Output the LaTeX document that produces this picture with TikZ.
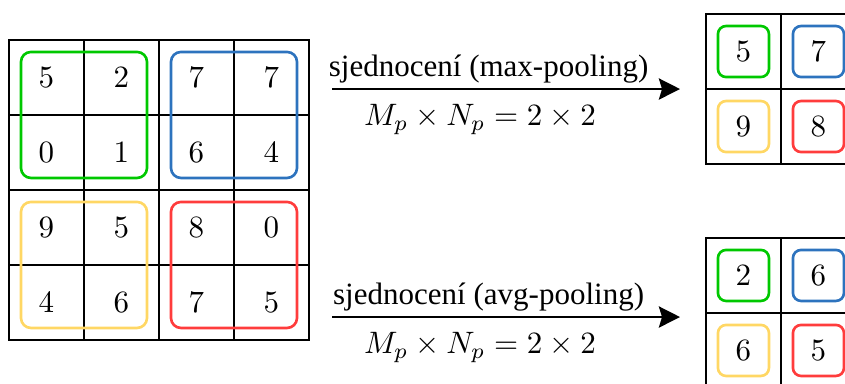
\documentclass[tikz,border=0pt]{standalone}
\usepackage[no-math]{fontspec}
\setmainfont{Liberation Serif}
\usepackage{amsmath}
\usetikzlibrary{positioning, arrows.meta, calc}
\definecolor{grpgreen}{RGB}{0,200,0}
\definecolor{grpblue}{RGB}{45,115,190}
\definecolor{grpyellow}{RGB}{255,215,100}
\definecolor{grpred}{RGB}{255,60,60}

\begin{document}
\begin{tikzpicture}[font=\normalsize,
      cell/.style={draw, line width=0.9pt, minimum size=0.85cm, inner sep=0pt, outer sep=0pt},
      grp/.style={line width=0.85pt, rounded corners=3.2pt},
      pbox/.style={draw, line width=0.85pt, rounded corners=2.6pt, minimum size=0.578cm, inner sep=0pt},
      lbl/.style={inner sep=1.5pt},
      arr/.style={-{Stealth[length=6.8pt, width=6.8pt, inset=1pt]}, line width=0.9pt}]
    \useasboundingbox (0,0) rectangle (9.577,-4.341);
    % vstupni matice 4x4
    \foreach \row [count=\r] in {{5,2,7,7},{0,1,6,4},{9,5,8,0},{4,6,7,5}}
      \foreach \v [count=\c] in \row
        \node[cell] (in-\r-\c) at ({0.102+0.85*\c-0.425},{-0.453-0.85*\r+0.425}) {$\v$};
    \draw[grp, grpgreen]  ($(in-1-1.north west)+(0.136,-0.136)$) rectangle ($(in-2-2.south east)+(-0.136,0.136)$);
    \draw[grp, grpblue]   ($(in-1-3.north west)+(0.136,-0.136)$) rectangle ($(in-2-4.south east)+(-0.136,0.136)$);
    \draw[grp, grpyellow] ($(in-3-1.north west)+(0.136,-0.136)$) rectangle ($(in-4-2.south east)+(-0.136,0.136)$);
    \draw[grp, grpred]    ($(in-3-3.north west)+(0.136,-0.136)$) rectangle ($(in-4-4.south east)+(-0.136,0.136)$);
    % vystupy 2x2
    \foreach \r/\c/\mv/\av/\col in {1/1/5/2/grpgreen, 1/2/7/6/grpblue, 2/1/9/6/grpyellow, 2/2/8/5/grpred} {
      \node[cell] (mx-\r-\c) at ({8.001+0.85*\c-0.425},{-0.159-0.85*\r+0.425}) {};
      \node[pbox, draw=\col] (mxv-\r-\c) at (mx-\r-\c) {$\mv$};
      \node[cell] (av-\r-\c) at ({8.001+0.85*\c-0.425},{-2.697-0.85*\r+0.425}) {};
      \node[pbox, draw=\col] (avv-\r-\c) at (av-\r-\c) {$\av$};
    }
    \coordinate (maxa) at (3.763,-1.009);
    \coordinate (maxb) at (7.707,-1.009);
    \coordinate (avga) at (3.763,-3.593);
    \coordinate (avgb) at (7.707,-3.593);
    \draw[arr] (maxa) -- (maxb)
      node[lbl, pos=0.45, above] {sjednocení (max-pooling)}
      node[lbl, pos=0.425, below=3pt] {$M_p \times N_p = 2 \times 2$};
    \draw[arr] (avga) -- (avgb)
      node[lbl, pos=0.45, above] {sjednocení (avg-pooling)}
      node[lbl, pos=0.425, below=3pt] {$M_p \times N_p = 2 \times 2$};
  \end{tikzpicture}
\end{document}
